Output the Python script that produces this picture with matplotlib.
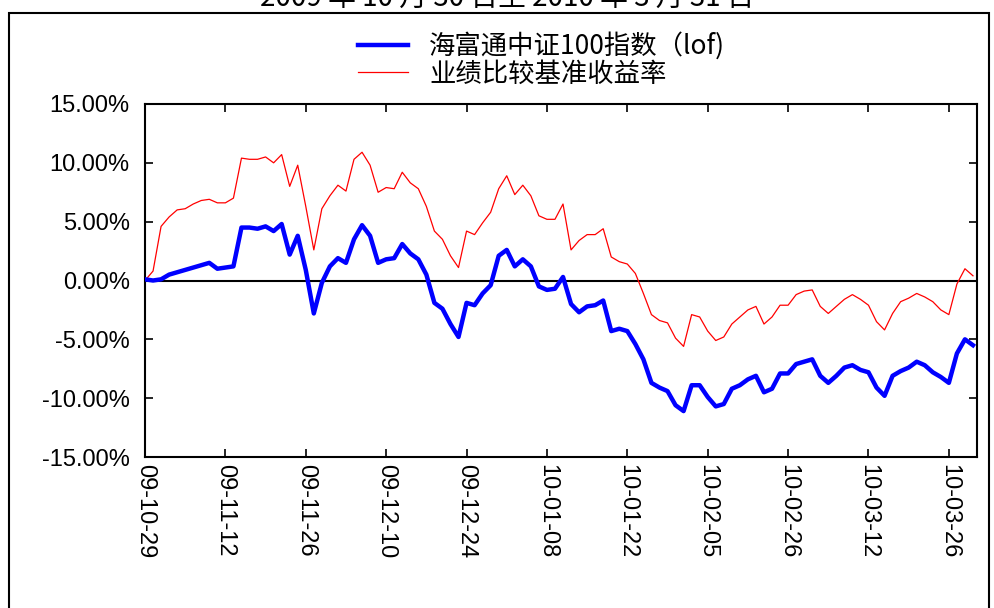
import matplotlib
matplotlib.use("Agg")
import matplotlib.pyplot as plt
from matplotlib.patches import Rectangle

plt.rcParams['font.family'] = ['Liberation Sans', 'Noto Sans CJK SC', 'DejaVu Sans']

# 交易日序号 0..103 (2009-10-29 ~ 2010-03-31)
fund = [0.1, 0.0, 0.1, 0.5, 0.7, 0.9, 1.1, 1.3, 1.5, 1.0,
        1.1, 1.2, 4.5, 4.5, 4.4, 4.6, 4.2, 4.8, 2.2, 3.8,
        0.9, -2.8, -0.2, 1.2, 1.9, 1.5, 3.5, 4.7, 3.8, 1.5,
        1.8, 1.9, 3.1, 2.3, 1.8, 0.5, -1.9, -2.4, -3.7, -4.8,
        -1.9, -2.1, -1.1, -0.4, 2.1, 2.6, 1.2, 1.8, 1.2, -0.5,
        -0.8, -0.7, 0.3, -2.0, -2.7, -2.2, -2.1, -1.7, -4.3, -4.1,
        -4.3, -5.4, -6.7, -8.7, -9.1, -9.4, -10.6, -11.1, -8.9, -8.9,
        -9.9, -10.7, -10.5, -9.2, -8.9, -8.4, -8.1, -9.5, -9.2, -7.9,
        -7.9, -7.1, -6.9, -6.7, -8.1, -8.7, -8.1, -7.4, -7.2, -7.6,
        -7.8, -9.1, -9.8, -8.1, -7.7, -7.4, -6.9, -7.2, -7.8, -8.2,
        -8.7, -6.2, -5.0, -5.5]
bench = [0.0, 0.8, 4.6, 5.4, 6.0, 6.1, 6.5, 6.8, 6.9, 6.6,
         6.6, 7.0, 10.4, 10.3, 10.3, 10.5, 10.0, 10.7, 8.0, 9.8,
         6.3, 2.6, 6.1, 7.2, 8.1, 7.6, 10.3, 10.9, 9.8, 7.5,
         7.9, 7.8, 9.2, 8.3, 7.8, 6.3, 4.2, 3.5, 2.1, 1.1,
         4.2, 3.9, 4.9, 5.8, 7.8, 8.9, 7.3, 8.1, 7.2, 5.5,
         5.2, 5.2, 6.5, 2.6, 3.4, 3.9, 3.9, 4.4, 2.0, 1.6,
         1.4, 0.6, -1.1, -2.9, -3.4, -3.6, -4.9, -5.6, -2.9, -3.1,
         -4.3, -5.1, -4.8, -3.7, -3.1, -2.5, -2.2, -3.7, -3.1, -2.1,
         -2.1, -1.2, -0.9, -0.8, -2.2, -2.8, -2.2, -1.6, -1.2, -1.6,
         -2.1, -3.5, -4.2, -2.8, -1.8, -1.5, -1.1, -1.4, -1.8, -2.5,
         -2.9, -0.3, 1.0, 0.4]
xtick_labels = ["09-10-29", "09-11-12", "09-11-26", "09-12-10", "09-12-24",
                "10-01-08", "10-01-22", "10-02-05", "10-02-26", "10-03-12",
                "10-03-26"]
ytick_values = [15, 10, 5, 0, -5, -10, -15]
ytick_labels = ["15.00%", "10.00%", "5.00%", "0.00%", "-5.00%", "-10.00%", "-15.00%"]

fig = plt.figure(figsize=(9.95, 6.08), dpi=100)
ax = fig.add_axes([145 / 995, 1 - 457 / 608, (977 - 145) / 995, (457 - 104) / 608])

x = list(range(len(fund)))
ax.axhline(0, color="black", lw=1.5, zorder=1)
ax.plot(x, fund, color="#0000ff", lw=3.2, label="海富通中证100指数（lof)", zorder=3)
ax.plot(x, bench, color="#ff0000", lw=0.9, label="业绩比较基准收益率", zorder=2)

ax.set_xlim(0, 103.5)
ax.set_ylim(-15, 15)
ax.set_xticks(range(0, 101, 10))
ax.set_xticklabels(xtick_labels, rotation=-90, fontsize=17)
ax.set_yticks(ytick_values)
ax.set_yticklabels(ytick_labels, fontsize=17)
ax.tick_params(axis="both", direction="in", top=True, right=True, length=6, width=1.2)
ax.tick_params(axis="x", pad=5)
ax.tick_params(axis="y", pad=11)
for s in ax.spines.values():
    s.set_linewidth(1.5)

fig.legend(loc="upper left", bbox_to_anchor=(358 / 995, 1 - 32 / 608), frameon=False,
           prop={"family": ["Noto Sans CJK SC"], "size": 19}, handlelength=1.9,
           handletextpad=0.8, labelspacing=0.02, borderpad=0, borderaxespad=0)

# 标题（上半部分被裁掉）
fig.text(507 / 995, 1 - 6 / 608, "2009 年 10 月 30 日至 2010 年 3 月 31 日", ha="center",
         va="baseline", fontsize=20, family=["Noto Sans CJK SC"])

# 外框
fig.patches.append(Rectangle((9 / 995, -0.05), (989 - 9) / 995, 1.05 - 13 / 608,
                             transform=fig.transFigure, fill=False, lw=1.5, ec="black"))

fig.savefig("out.png", dpi=100)
